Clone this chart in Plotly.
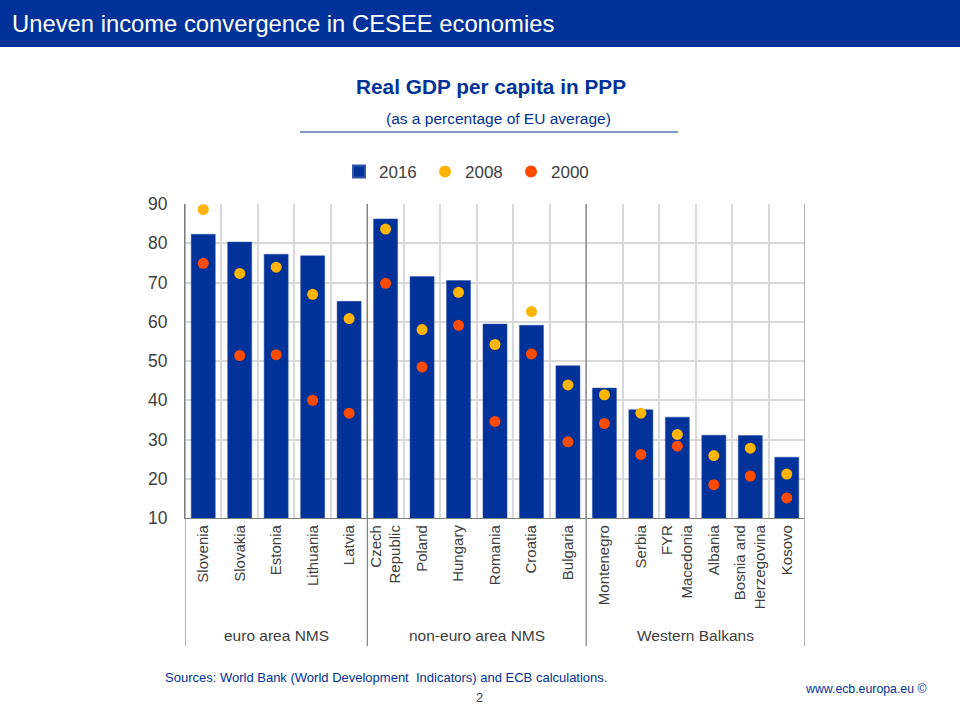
import plotly.graph_objects as go

countries = ["Slovenia", "Slovakia", "Estonia", "Lithuania", "Latvia",
             "Czech<br>Republic", "Poland", "Hungary", "Romania", "Croatia", "Bulgaria",
             "Montenegro", "Serbia", "FYR<br>Macedonia", "Albania", "Bosnia and<br>Herzegovina", "Kosovo"]
gdp_2016 = [82.3, 80.3, 77.2, 76.8, 65.2,
            86.2, 71.5, 70.5, 59.4, 59.1, 48.8,
            43.1, 37.6, 35.7, 31.1, 31.0, 25.5]
gdp_2008 = [88.6, 72.3, 73.9, 67.0, 60.8,
            83.6, 58.0, 67.5, 54.2, 62.6, 43.9,
            41.4, 36.7, 31.3, 25.9, 27.8, 21.2]
gdp_2000 = [74.9, 51.4, 51.6, 40.0, 36.7,
            69.8, 48.5, 59.1, 34.6, 51.8, 29.4,
            34.1, 26.2, 28.3, 18.5, 20.7, 15.1]
groups = ["euro area NMS", "non-euro area NMS", "Western Balkans"]
group_sizes = [5, 6, 6]

BLUE = "#003299"
YELLOW = "#FFB400"
ORANGE = "#FF4B00"
GRAY_TXT = "#404040"
GRID = "#D9D9D9"
FONT = "Liberation Sans, Arial, sans-serif"

# plot area in pixels
L, R, T, B = 185, 805, 204, 518
W, H = 960, 720


def px2x(px):
    return (px - L) / (R - L)


def py2y(py):
    return (B - py) / (B - T)


fig = go.Figure()
fig.add_trace(go.Bar(x=countries, y=gdp_2016, name="2016", width=0.66,
                     marker=dict(color=BLUE, line=dict(color="#3355AA", width=0.5))))
fig.add_trace(go.Scatter(x=countries, y=gdp_2008, name="2008", mode="markers",
                         marker=dict(color=YELLOW, size=11)))
fig.add_trace(go.Scatter(x=countries, y=gdp_2000, name="2000", mode="markers",
                         marker=dict(color=ORANGE, size=11)))

shapes = []
annotations = []

# header band
shapes.append(dict(type="rect", xref="paper", yref="paper", x0=px2x(0), x1=px2x(W),
                   y0=py2y(47), y1=py2y(0), fillcolor=BLUE, line=dict(width=0), layer="below"))
annotations.append(dict(text="Uneven income convergence in CESEE economies", xref="paper", yref="paper",
                        x=px2x(10), y=py2y(23), xanchor="left", yanchor="middle", showarrow=False,
                        font=dict(family=FONT, size=23.8, color="white")))
# titles
annotations.append(dict(text="<b>Real GDP per capita in PPP</b>", xref="paper", yref="paper",
                        x=px2x(491), y=py2y(86), xanchor="center", yanchor="middle", showarrow=False,
                        font=dict(family=FONT, size=20.8, color=BLUE)))
annotations.append(dict(text="(as a percentage of EU average)", xref="paper", yref="paper",
                        x=px2x(498), y=py2y(119), xanchor="center", yanchor="middle", showarrow=False,
                        font=dict(family=FONT, size=15.5, color=BLUE)))
shapes.append(dict(type="line", xref="paper", yref="paper", x0=px2x(300), x1=px2x(678),
                   y0=py2y(132), y1=py2y(132), line=dict(color=BLUE, width=1)))

# group separators / outer verticals extending below axis
bounds = [-0.5]
acc = -0.5
for n in group_sizes:
    acc += n
    bounds.append(acc)
for b in bounds:
    shapes.append(dict(type="line", xref="x", yref="paper", x0=b, x1=b,
                       y0=py2y(646), y1=1, line=dict(color="#7F7F7F", width=1.2)))
# group labels
start = 0
for g, n in zip(groups, group_sizes):
    annotations.append(dict(text=g, xref="x", yref="paper", x=start + (n - 1) / 2, y=py2y(635),
                            xanchor="center", yanchor="middle", showarrow=False,
                            font=dict(family=FONT, size=15.5, color=GRAY_TXT)))
    start += n

# footer
annotations.append(dict(text="Sources: World Bank (World Development  Indicators) and ECB calculations.",
                        xref="paper", yref="paper", x=px2x(163), y=py2y(677), xanchor="left",
                        yanchor="middle", showarrow=False, font=dict(family=FONT, size=13, color=BLUE)))
annotations.append(dict(text="2", xref="paper", yref="paper", x=px2x(479), y=py2y(697),
                        xanchor="center", yanchor="middle", showarrow=False,
                        font=dict(family=FONT, size=13, color=GRAY_TXT)))
annotations.append(dict(text="www.ecb.europa.eu ©", xref="paper", yref="paper", x=px2x(928), y=py2y(689),
                        xanchor="right", yanchor="middle", showarrow=False,
                        font=dict(family=FONT, size=12.3, color=BLUE)))

fig.update_layout(
    width=W, height=H,
    margin=dict(l=L, r=W - R, t=T, b=H - B),
    paper_bgcolor="white", plot_bgcolor="white",
    font=dict(family=FONT, color=GRAY_TXT),
    bargap=0.34,
    showlegend=True,
    legend=dict(orientation="h", x=px2x(339), y=py2y(172), xanchor="left", yanchor="middle",
                font=dict(family=FONT, size=17, color=GRAY_TXT), entrywidth=41,
                traceorder="normal", itemsizing="constant"),
    xaxis=dict(type="category", tickson="boundaries", showgrid=True, gridcolor=GRID, gridwidth=1.5,
               tickangle=-90, ticks="", showline=True, linecolor="#7F7F7F", linewidth=1.2,
               tickfont=dict(family=FONT, size=15, color=GRAY_TXT), range=[-0.5, 16.5],
               fixedrange=True),
    yaxis=dict(range=[10, 90], dtick=10, tick0=10, showgrid=True, gridcolor=GRID, gridwidth=1.5,
               showline=True, linecolor="#7F7F7F", linewidth=1.2, ticks="", ticklabelstandoff=13,
               tickfont=dict(family=FONT, size=17.5, color=GRAY_TXT), zeroline=False),
    shapes=shapes,
    annotations=annotations,
)

fig.write_html("out.html")
